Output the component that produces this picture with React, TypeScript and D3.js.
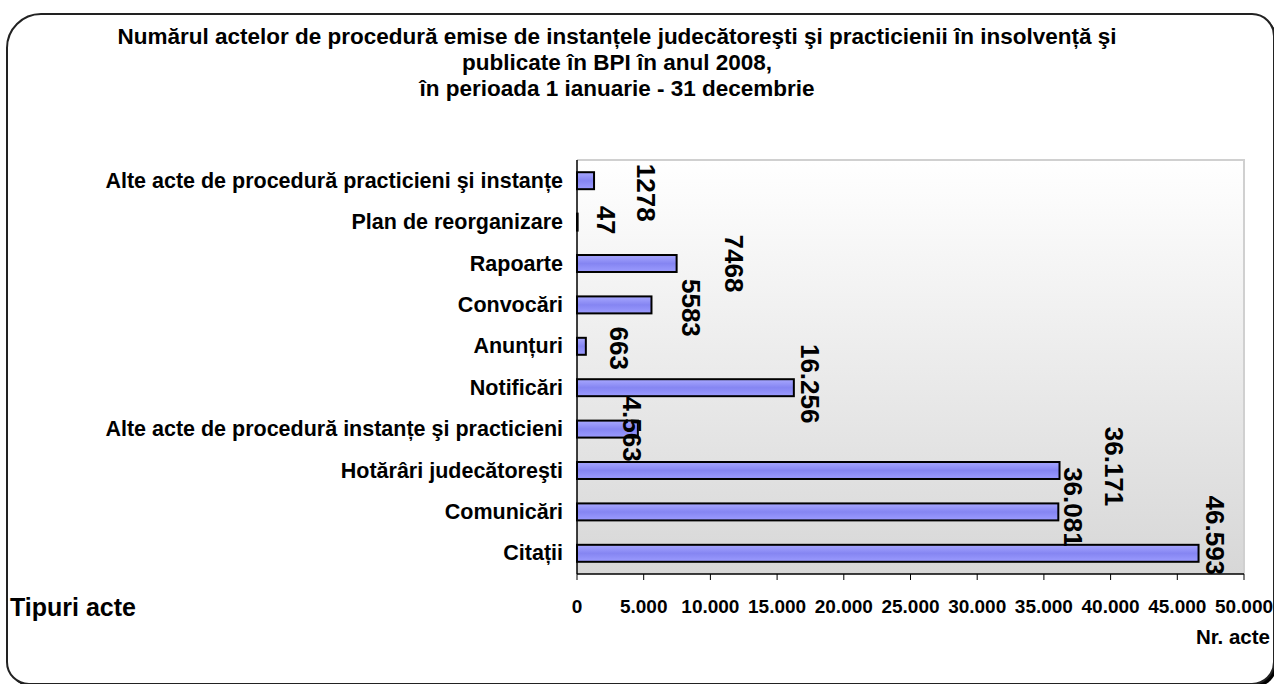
import React from "react";
import * as d3 from "d3";

const titleLines = [
  "Numărul actelor de procedură emise de instanțele judecătoreşti şi practicienii în insolvență şi",
  "publicate în BPI în anul 2008,",
  "în perioada 1 ianuarie - 31 decembrie",
];
const categories = [
  "Alte acte de procedură practicieni şi instanțe",
  "Plan de reorganizare",
  "Rapoarte",
  "Convocări",
  "Anunțuri",
  "Notificări",
  "Alte acte de procedură instanțe şi practicieni",
  "Hotărâri judecătoreşti",
  "Comunicări",
  "Citații",
];
const values = [1278, 47, 7468, 5583, 663, 16256, 4563, 36171, 36081, 46593];
const valueLabels = ["1278", "47", "7468", "5583", "663", "16.256", "4.563", "36.171", "36.081", "46.593"];
// manual label nudges (pixels) as placed in the original
const labelDx = [52, 29, 58, 40, 34, 17, -5, 55, 15, 17];
const labelDy = [12, -2, 0, 3, 2, -4, 0, -4, -5, -18];
const xTicks = [0, 5000, 10000, 15000, 20000, 25000, 30000, 35000, 40000, 45000, 50000];
const yAxisTitle = "Tipuri acte";
const xAxisTitle = "Nr. acte";

const W = 1274;
const H = 684;
const plot = { left: 577, right: 1244, top: 160, bottom: 574 };
const FONT = "'Liberation Sans', Arial, Helvetica, sans-serif";

const locale = d3.formatLocale({ decimal: ",", thousands: ".", grouping: [3], currency: ["", ""] });
const fmt = locale.format(",d");

function framePath(x0: number, y0: number, x1: number, y1: number, rtl: number, r: number) {
  return `M${x0},${y0 + rtl} A${rtl},${rtl} 0 0 1 ${x0 + rtl},${y0} L${x1 - r},${y0} A${r},${r} 0 0 1 ${x1},${y0 + r} L${x1},${y1 - r} A${r},${r} 0 0 1 ${x1 - r},${y1} L${x0 + r},${y1} A${r},${r} 0 0 1 ${x0},${y1 - r} Z`;
}

export default function App() {
  const x = d3.scaleLinear().domain([0, 50000]).range([plot.left, plot.right]);
  const y = d3
    .scaleBand<string>()
    .domain(categories)
    .range([plot.top, plot.bottom])
    .paddingInner(0.59)
    .paddingOuter(0.295);
  const bw = y.bandwidth();

  return (
    <svg width={W} height={H} style={{ position: "absolute", left: 0, top: 0, background: "#fff" }} fontFamily={FONT}>
      <defs>
        <linearGradient id="bg" x1="0" y1="0" x2="0" y2="1">
          <stop offset="0" stopColor="#ffffff" />
          <stop offset="1" stopColor="#d7d7d7" />
        </linearGradient>
        <linearGradient id="bar" x1="0" y1="0" x2="0" y2="1">
          <stop offset="0" stopColor="#a8a8ff" />
          <stop offset="0.5" stopColor="#8585f2" />
          <stop offset="1" stopColor="#9c9cff" />
        </linearGradient>
      </defs>
      <path d={framePath(7, 14, 1274, 684, 34, 22)} transform="translate(3,3)" fill="#000" />
      <path d={framePath(7, 14, 1274, 684, 34, 22)} fill="#fff" stroke="#222" strokeWidth={2} />

      {titleLines.map((t, i) => (
        <text key={i} x={617} y={44 + i * 26} textAnchor="middle" fontWeight="bold" fontSize={22.5} fill="#000">
          {t}
        </text>
      ))}

      <rect x={plot.left} y={plot.top} width={plot.right - plot.left} height={plot.bottom - plot.top} fill="url(#bg)" />
      <path
        d={`M${plot.left},${plot.top} L${plot.right},${plot.top} L${plot.right},${plot.bottom}`}
        fill="none"
        stroke="#d0d0d0"
        strokeWidth={2}
      />

      {categories.map((c, i) => (
        <rect
          key={c}
          x={x(0)}
          y={y(c)!}
          width={x(values[i]) - x(0)}
          height={bw}
          fill="url(#bar)"
          stroke="#000"
          strokeWidth={2}
        />
      ))}

      <line x1={plot.left} y1={plot.top} x2={plot.left} y2={plot.bottom} stroke="#000" strokeWidth={1.5} />
      <line x1={plot.left} y1={plot.bottom} x2={plot.right} y2={plot.bottom} stroke="#000" strokeWidth={1.5} />
      {xTicks.map((t) => (
        <g key={t}>
          <line x1={x(t)} x2={x(t)} y1={plot.bottom} y2={plot.bottom + 6} stroke="#000" strokeWidth={1} />
          <text x={x(t)} y={613} textAnchor="middle" fontWeight="bold" fontSize={19} fill="#000">
            {fmt(t)}
          </text>
        </g>
      ))}

      {categories.map((c) => (
        <text key={c} x={563} y={y(c)! + bw / 2 + 7} textAnchor="end" fontWeight="bold" fontSize={21.5} fill="#000">
          {c}
        </text>
      ))}

      {categories.map((c, i) => {
        const cx = x(values[i]) + labelDx[i];
        const cy = y(c)! + bw / 2 + labelDy[i];
        return (
          <text
            key={"l" + c}
            transform={`translate(${cx},${cy}) rotate(90)`}
            textAnchor="middle"
            dy="0.36em"
            fontWeight="bold"
            fontSize={26}
            fill="#000"
          >
            {valueLabels[i]}
          </text>
        );
      })}

      <text x={10} y={616} fontWeight="bold" fontSize={25} fill="#000">
        {yAxisTitle}
      </text>
      <text x={1270} y={644} textAnchor="end" fontWeight="bold" fontSize={20.5} fill="#000">
        {xAxisTitle}
      </text>
    </svg>
  );
}
